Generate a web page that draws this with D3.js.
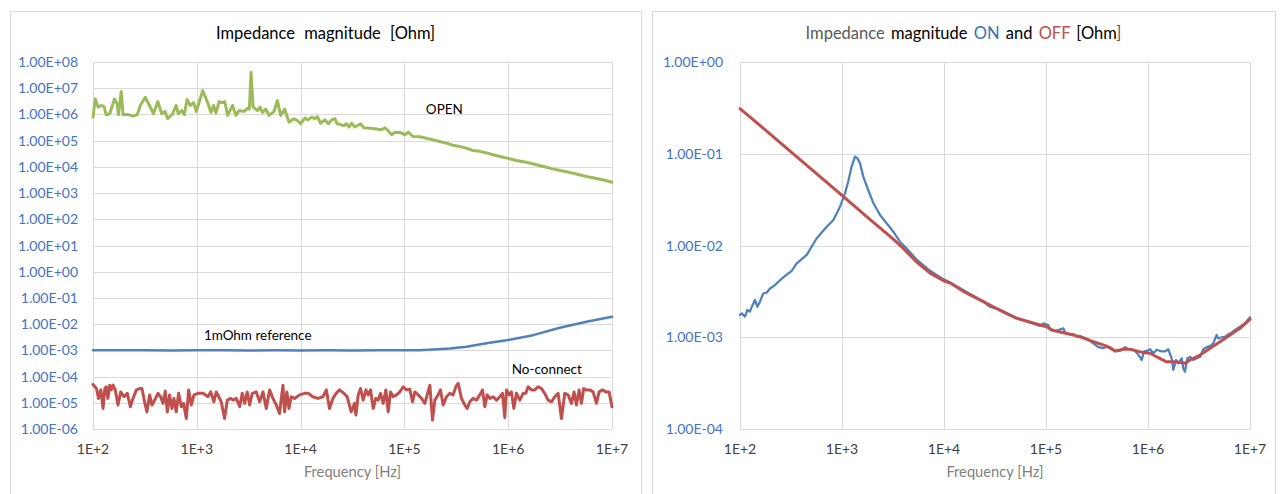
<!DOCTYPE html>
<html>
<head>
<meta charset="utf-8">
<script src="https://cdn.jsdelivr.net/npm/d3@7"></script>
<style>
  body { margin: 0; background: #fff; }
  svg { display: block; font-family: Lato, "Open Sans", sans-serif; }
</style>
</head>
<body>
<svg id="chart" width="1280" height="494"></svg>
<script>
// ---- axis ticks ----
const freqTicks = [1e2, 1e3, 1e4, 1e5, 1e6, 1e7];
const leftOhmTicks = [1e-6, 1e-5, 1e-4, 1e-3, 1e-2, 1e-1, 1e0, 1e1, 1e2, 1e3, 1e4, 1e5, 1e6, 1e7, 1e8];
const rightOhmTicks = [1e-4, 1e-3, 1e-2, 1e-1, 1e0];

// ---- left chart: OPEN fixture ----
const openHz = [100,105,112,120,128,134,145,161,171,176,
  187,195,217,242,267,287,318,350,382,421,
  459,494,525,586,631,664,715,759,805,867,
  933,989,1140,1270,1370,1450,1530,1640,1770,1860,
  1980,2210,2380,2560,2860,3080,3210,3330,3490,3840,
  4070,4290,4620,4970,5550,5970,6430,7020,7720,8630,
  9290,10000,11000,11800,12800,13700,14500,15600,17100,18500,
  19900,21400,22500,24300,26100,27700,29400,31000,33300,35100,
  37800,40700,46500,54000,60300,64900,69800,75200,80900,90400,
  101000,109000,121000,141000,163000,189000,219000,255000,294000,342000,
  396000,459000,533000,618000,716000,830000,1000000,1200000,1500000,1870000,
  2340000,2920000,3640000,4550000,5680000,7080000,8510000,10000000];
const openOhm = [7.9e5,3.9e6,1.9e6,2.2e6,2.0e6,9.7e5,1.06e6,3.9e6,2.5e6,9.7e5,
  7.5e6,9.7e5,1.0e6,8.6e5,9.7e5,2.3e6,4.5e6,2.2e6,1.06e6,3.1e6,
  1.06e6,1.3e6,6.8e5,1.06e6,2.2e6,1.06e6,1.4e6,9.7e5,3.7e6,2.2e6,
  2.8e6,1.3e6,8.1e6,2.9e6,1.2e6,2.2e6,1.16e6,3.1e6,2.8e6,3.1e6,
  9.2e5,2.2e6,9.2e5,1.4e6,1.3e6,1.7e6,1.6e6,4.1e7,1.9e6,1.4e6,
  1.9e6,1.2e6,1.6e6,9.2e5,1.3e6,3.4e6,9.2e5,1.6e6,5.1e5,6.8e5,
  5.9e5,4.4e5,7.2e5,6.2e5,7.9e5,6.9e5,8.3e5,4.6e5,6.2e5,4.4e5,
  6.2e5,6.9e5,4.4e5,4.1e5,3.7e5,4.4e5,3.3e5,4.6e5,3.3e5,3.7e5,
  4.4e5,3.1e5,3.0e5,2.8e5,2.6e5,3.1e5,2.4e5,1.66e5,2.1e5,2.05e5,
  1.66e5,2.1e5,1.44e5,1.4e5,1.24e5,1.07e5,9.3e4,8.0e4,6.7e4,6.0e4,
  5.2e4,4.2e4,3.9e4,3.4e4,2.9e4,2.5e4,2.1e4,1.75e4,1.5e4,1.2e4,
  9.7e3,7.7e3,6.5e3,5.3e3,4.3e3,3.6e3,3.1e3,2.6e3];

// ---- left chart: 1 mOhm reference ----
const refHz = [100,178,316,562,1000,1780,3160,5620,10000,17800,31600,56200,
  100000,141000,274000,396000,618000,1000000,1740000,3140000,5680000,10000000];
const refOhm = [1.0e-3,1.01e-3,1.0e-3,0.99e-3,1.0e-3,1.01e-3,0.99e-3,1.0e-3,0.99e-3,1.0e-3,0.99e-3,1.0e-3,
  1.0e-3,1.0e-3,1.17e-3,1.37e-3,1.85e-3,2.5e-3,3.8e-3,7.3e-3,1.23e-2,1.9e-2];

// ---- left chart: no-connect ----
const noConnHz = [100,108,113,119,125,130,134,139,145,150,
  156,164,174,185,199,214,229,243,262,281,
  296,314,331,351,370,393,423,448,472,497,
  520,547,576,603,634,668,709,747,792,834,
  885,939,1030,1150,1280,1360,1460,1540,1630,1720,
  1850,1970,2120,2230,2400,2590,2740,2890,3060,3230,
  3420,3740,4030,4340,4670,5030,5410,5830,6270,6760,
  7010,7380,7720,8120,8750,9780,10900,11900,13100,14700,
  16400,17700,19000,20500,22000,23700,26100,28100,30700,33100,
  34100,35900,37800,40100,42600,44800,47200,50100,53100,55900,
  58900,62500,66300,69800,73500,78000,84000,90400,97300,104800,
  112800,119700,126100,135700,146200,157400,165800,175900,186600,196500,
  211500,222700,236300,254400,274000,294900,313000,329600,354800,382100,
  402300,426800,459600,494800,532800,565300,595300,626900,665100,716000,
  771000,830200,880800,927200,962300,1021000,1075000,1132000,1201000,1293000,
  1393000,1477000,1556000,1675000,1804000,1942000,2091000,2251000,2424000,2610000,
  2811000,3026000,3258000,3508000,3777000,4067000,4313000,4544000,4819000,5076000,
  5345000,5670000,6106000,6574000,7078000,7509000,8085000,8708000,9374000,10000000];
const noConnOhm = [5.0e-5,3.5e-5,1.47e-5,3.1e-5,6.1e-6,3.5e-5,4.1e-5,1.47e-5,4.7e-5,3.1e-5,
  4.7e-5,3.1e-5,8.2e-6,2.6e-5,1.7e-5,2.3e-5,7.1e-6,1.47e-5,3.1e-5,3.5e-5,
  3.5e-5,1.09e-5,4.5e-6,2.0e-5,8.2e-6,1.27e-5,2.3e-5,1.7e-5,9.5e-6,2.8e-5,
  4.5e-6,2.0e-5,6.1e-6,1.47e-5,4.5e-6,2.3e-5,7.1e-6,9.5e-6,2.5e-6,3.1e-5,
  8.2e-6,2.0e-5,2.3e-5,2.3e-5,1.7e-5,2.6e-5,1.09e-5,2.6e-5,1.7e-5,1.09e-5,
  2.5e-6,1.27e-5,1.47e-5,1.27e-5,1.47e-5,7.1e-6,2.3e-5,9.5e-6,2.6e-5,8.2e-6,
  2.3e-5,2.6e-5,1.09e-5,2.6e-5,6.1e-6,3.1e-5,1.47e-5,8.2e-6,3.9e-6,4.7e-5,
  4.5e-6,2.6e-5,6.1e-6,1.7e-5,1.47e-5,2.0e-5,2.3e-5,2.3e-5,1.7e-5,1.47e-5,
  1.7e-5,3.1e-5,6.1e-6,1.47e-5,2.3e-5,3.1e-5,2.3e-5,1.7e-5,4.5e-6,9.5e-6,
  3.4e-6,2.0e-5,3.5e-5,1.27e-5,3.1e-5,2.0e-5,3.1e-5,6.1e-6,1.47e-5,1.27e-5,
  2.3e-5,9.5e-6,3.1e-5,4.5e-6,2.6e-5,1.7e-5,2.0e-5,2.6e-5,4.1e-5,3.1e-5,
  3.3e-5,1.09e-5,2.6e-5,2.0e-5,1.47e-5,9.5e-6,2.0e-5,4.7e-5,2.2e-6,1.27e-5,
  2.0e-5,3.1e-5,8.2e-6,1.7e-5,2.3e-5,2.0e-5,4.1e-5,5.5e-5,1.47e-5,8.2e-6,
  6.1e-6,1.09e-5,1.47e-5,1.27e-5,2.0e-5,3.1e-5,7.1e-6,2.0e-5,1.47e-5,1.7e-5,
  1.27e-5,1.7e-5,2.3e-5,2.7e-6,3.1e-5,2.0e-5,2.6e-5,6.1e-6,2.3e-5,1.27e-5,
  2.3e-5,2.3e-5,4.1e-5,3.1e-5,3.1e-5,4.1e-5,3.5e-5,2.3e-5,1.27e-5,1.09e-5,
  1.7e-5,2.3e-5,2.5e-6,2.3e-5,2.0e-5,9.5e-6,2.6e-5,8.2e-6,3.1e-5,9.5e-6,
  3.5e-5,3.1e-5,3.1e-5,2.6e-5,9.5e-6,2.6e-5,3.1e-5,2.6e-5,2.6e-5,7.0e-6];

// ---- right chart: switch ON ----
const onHz = [100,104,112,118,125,133,140,148,157,169,
  182,197,220,247,287,321,360,403,451,565,
  708,823,956,1070,1150,1240,1340,1410,1500,1620,
  1810,2030,2360,2740,3190,3700,4310,5400,7300,9840,
  11500,16000,24300,28000,35000,51600,87300,94200,105400,109500,
  127300,148000,153600,171800,185300,200000,215400,250600,291200,326000,
  364800,393700,440600,474600,531000,595400,641400,718000,774300,835000,
  867000,914000,971000,1047000,1128000,1216000,1361000,1468000,1582000,1706000,
  1771000,1882000,1983000,2138000,2219000,2304000,2431000,2584000,2782000,3000000,
  3235000,3486000,3756000,4050000,4366000,4706000,4886000,5268000,5680000,6120000,
  6600000,7120000,7980000,8940000,10000000];
const onOhm = [1.75e-3,1.82e-3,1.68e-3,1.98e-3,1.90e-3,2.25e-3,2.55e-3,2.15e-3,2.44e-3,3.0e-3,
  3.06e-3,3.4e-3,3.7e-3,4.2e-3,4.8e-3,5.3e-3,6.4e-3,7.1e-3,7.9e-3,1.20e-2,
  1.60e-2,1.90e-2,2.65e-2,3.7e-2,4.95e-2,7.2e-2,9.3e-2,9.0e-2,7.9e-2,5.6e-2,
  4.0e-2,2.9e-2,2.15e-2,1.75e-2,1.41e-2,1.10e-2,9.3e-3,7.0e-3,5.3e-3,4.3e-3,
  3.95e-3,3.2e-3,2.45e-3,2.15e-3,2.0e-3,1.62e-3,1.33e-3,1.42e-3,1.36e-3,1.2e-3,
  1.18e-3,1.25e-3,1.12e-3,1.08e-3,1.08e-3,1.01e-3,1.03e-3,9.7e-4,8.6e-4,7.8e-4,
  7.6e-4,7.9e-4,7.6e-4,7.0e-4,7.1e-4,7.8e-4,7.4e-4,7.3e-4,6.8e-4,6.1e-4,
  5.65e-4,7.0e-4,7.1e-4,7.4e-4,6.7e-4,7.3e-4,7.0e-4,7.0e-4,7.4e-4,5.9e-4,
  4.4e-4,5.65e-4,5.2e-4,5.9e-4,4.6e-4,4.2e-4,5.9e-4,6.1e-4,5.65e-4,5.9e-4,
  6.1e-4,7.4e-4,7.8e-4,8.0e-4,8.6e-4,1.06e-3,9.7e-4,1.0e-3,1.01e-3,1.08e-3,
  1.12e-3,1.2e-3,1.30e-3,1.42e-3,1.65e-3];

// ---- right chart: switch OFF ----
const offHz = [100,178,316,562,1000,1780,3160,3990,5400,7300,
  10000,11500,16000,24300,35000,51600,87300,101600,118000,148000,
  185000,215000,291000,394000,475000,573000,666000,774000,900000,1050000,
  1220000,1520000,1770000,2060000,2310000,2580000,3240000,4060000,5080000,6370000,
  7980000,10000000];
const offOhm = [0.31,0.181,0.105,0.0606,0.0351,0.0203,0.0118,9.3e-3,6.6e-3,5.0e-3,
  4.1e-3,3.9e-3,3.1e-3,2.44e-3,1.98e-3,1.61e-3,1.36e-3,1.30e-3,1.18e-3,1.12e-3,
  1.06e-3,1.01e-3,8.95e-4,8.0e-4,7.1e-4,7.4e-4,7.4e-4,7.1e-4,6.8e-4,6.7e-4,
  6.1e-4,5.4e-4,5.4e-4,5.3e-4,5.2e-4,5.65e-4,6.4e-4,7.6e-4,8.95e-4,1.06e-3,
  1.25e-3,1.57e-3];

// ---- drawing ----
const svg = d3.select("#chart");
const GRID = "#d9d9d9";
const TICK_Y = "#4472c4";
const TICK_X = "#404040";
const TITLE_AXIS = "#7f7f7f";

function expo(v) {
  const e = Math.round(Math.log10(v));
  return (e < 0 ? "-" : "+") + String(Math.abs(e)).padStart(2, "0");
}
const fmtOhm = v => "1.00E" + expo(v);
const fmtHz = v => "1E+" + Math.round(Math.log10(v));

function drawPanel(p) {
  const g = svg.append("g");
  g.append("rect")
    .attr("x", p.box[0] + 0.5).attr("y", p.box[1] + 0.5)
    .attr("width", p.box[2]).attr("height", p.box[3])
    .attr("fill", "#fff").attr("stroke", GRID).attr("stroke-width", 1);

  const x = d3.scaleLog().domain([freqTicks[0], freqTicks[freqTicks.length - 1]]).range([p.plot[0], p.plot[1]]);
  const y = d3.scaleLog().domain([p.yTicks[0], p.yTicks[p.yTicks.length - 1]]).range([p.plot[3], p.plot[2]]);
  const crisp = v => Math.round(v) + 0.5;

  // gridlines
  g.append("g").selectAll("line").data(p.yTicks).join("line")
    .attr("x1", x.range()[0]).attr("x2", x.range()[1])
    .attr("y1", d => crisp(y(d))).attr("y2", d => crisp(y(d)))
    .attr("stroke", GRID).attr("stroke-width", 1);
  g.append("g").selectAll("line").data(freqTicks).join("line")
    .attr("x1", d => crisp(x(d))).attr("x2", d => crisp(x(d)))
    .attr("y1", y.range()[0]).attr("y2", y.range()[1])
    .attr("stroke", GRID).attr("stroke-width", 1);

  // tick labels
  g.append("g").selectAll("text").data(p.yTicks).join("text")
    .attr("x", p.plot[0] - p.yLabelGap).attr("y", d => y(d)).attr("dy", "0.36em")
    .attr("text-anchor", "end").attr("fill", TICK_Y).attr("font-size", 14)
    .text(fmtOhm);
  g.append("g").selectAll("text").data(freqTicks).join("text")
    .attr("x", d => x(d)).attr("y", p.plot[3] + 25)
    .attr("text-anchor", "middle").attr("fill", TICK_X).attr("font-size", 14)
    .text(fmtHz);

  g.append("text")
    .attr("x", (p.plot[0] + p.plot[1]) / 2).attr("y", p.plot[3] + 48)
    .attr("text-anchor", "middle").attr("fill", TITLE_AXIS).attr("font-size", 14.7)
    .text("Frequency [Hz]");

  const title = g.append("text")
    .attr("x", p.box[0] + p.box[2] / 2).attr("y", 38.5)
    .attr("text-anchor", "middle").attr("font-size", 16.5).attr("word-spacing", p.titleSpacing);
  p.title.forEach(([t, c]) => title.append("tspan").attr("fill", c).text(t));

  const line = d3.line().x(d => x(d[0])).y(d => y(d[1]));
  p.series.forEach(s => {
    g.append("path")
      .attr("d", line(d3.zip(s.hz, s.ohm)))
      .attr("fill", "none").attr("stroke", s.color).attr("stroke-width", s.width)
      .attr("stroke-linejoin", "round").attr("stroke-linecap", "round");
  });

  (p.notes || []).forEach(n => {
    g.append("text").attr("x", x(n.hz)).attr("y", y(n.ohm))
      .attr("font-size", 13.5).attr("fill", "#000").text(n.text);
  });
}

drawPanel({
  box: [10, 11, 631, 500],
  plot: [93, 612, 62, 429],
  yTicks: leftOhmTicks,
  yLabelGap: 15,
  titleSpacing: 5,
  title: [["Impedance magnitude [Ohm]", "#000"]],
  series: [
    { hz: openHz, ohm: openOhm, color: "#9bbb59", width: 3 },
    { hz: refHz, ohm: refOhm, color: "#4f81bd", width: 2.5 },
    { hz: noConnHz, ohm: noConnOhm, color: "#c0504d", width: 3 }
  ],
  notes: [
    { text: "OPEN", hz: 1.61e5, ohm: 1.04e6 },
    { text: "1mOhm reference", hz: 1.17e3, ohm: 2.5e-3 },
    { text: "No-connect", hz: 1.08e6, ohm: 1.25e-4 }
  ]
});

drawPanel({
  box: [652, 11, 623, 500],
  plot: [740, 1250, 62, 429],
  yTicks: rightOhmTicks,
  yLabelGap: 17,
  titleSpacing: 2,
  title: [["Impedance ", "#595959"], ["magnitude ", "#000"], ["ON", "#2e75b6"],
          [" and ", "#000"], ["OFF", "#c0504d"], [" [Ohm", "#000"], ["]", "#595959"]],
  series: [
    { hz: onHz, ohm: onOhm, color: "#4f81bd", width: 2.25 },
    { hz: offHz, ohm: offOhm, color: "#c0504d", width: 3 }
  ]
});
</script>
</body>
</html>
